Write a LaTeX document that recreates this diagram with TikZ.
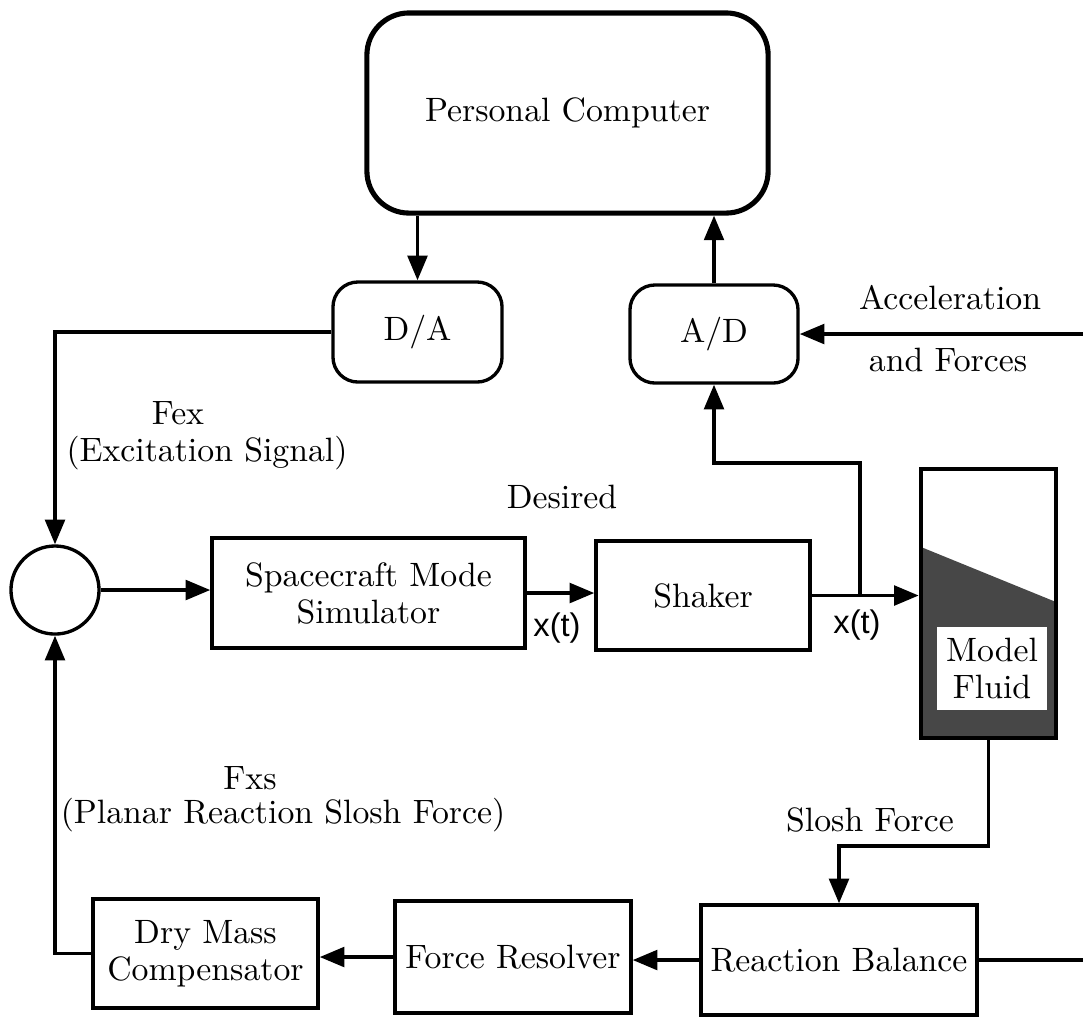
\documentclass[tikz,border=0pt]{standalone}
\usepackage{fontspec}
\newfontfamily\labelsans{Liberation Sans}
\usetikzlibrary{arrows.meta}
\tikzset{
  block/.style={draw, line width=0.95pt, align=center, inner sep=0pt},
  conv/.style={block, rounded corners=0.25cm},
  wire/.style={line width=0.95pt},
  signal/.style={wire, -{Triangle[length=7pt,width=5.6pt]}},
  txt/.style={align=center, inner sep=0pt},
  xlabel/.style={inner sep=0pt, font=\labelsans\fontsize{9.3}{11}\selectfont},
}

\begin{document}
\begin{tikzpicture}[x=0.01cm,y=-0.01cm,font=\fontsize{9.6}{10.5}\selectfont]
        \useasboundingbox (0,0) rectangle (1083,1017);

        % computer and converters
        \node[block, rounded corners=0.42cm, line width=1.45pt, minimum width=4.01cm, minimum height=2.00cm] (pc) at (567.5,113) {Personal Computer};
        \node[conv, minimum width=1.69cm, minimum height=1.00cm] (da) at (417.5,332) {D/A};
        \node[conv, minimum width=1.68cm, minimum height=0.98cm] (ad) at (714,334) {A/D};

        % summing junction
        \node[draw, circle, line width=0.95pt, minimum size=0.88cm, inner sep=0pt] (sum) at (55,590) {};

        % forward path
        \node[block, minimum width=3.13cm, minimum height=1.10cm] (sim) at (368.5,593) {Spacecraft Mode\\Simulator};
        \node[block, minimum width=2.14cm, minimum height=1.09cm] (shk) at (703,595.5) {Shaker};

        % fluid tank
        \fill[black!72] (921,547) -- (1056,602) -- (1056,738) -- (921,738) -- cycle;
        \node[fill=white, txt, minimum width=1.10cm, minimum height=0.83cm] (fluid) at (992,668.5) {Model\\Fluid};
        \node[draw, line width=1.3pt, minimum width=1.35cm, minimum height=2.69cm] (tank) at (988.5,603.5) {};

        % feedback path
        \node[block, minimum width=2.76cm, minimum height=1.10cm] (rb) at (839,960) {Reaction Balance};
        \node[block, minimum width=2.36cm, minimum height=1.12cm] (fr) at (513,957) {Force Resolver};
        \node[block, minimum width=2.25cm, minimum height=1.09cm] (dm) at (205.5,953.5) {Dry Mass\\Compensator};

        % labels
        \node[txt] (acc) at (950,298) {Acceleration};
        \node[txt] (accf) at (948,360) {and Forces};
        \node[txt] (fex) at (178,413) {Fex};
        \node[txt] (fexd) at (207,453) {(Excitation Signal)};
        \node[txt] (des) at (562,497) {Desired};
        \node[xlabel] (xt1) at (557,628) {x(t)};
        \node[xlabel] (xt2) at (857,625) {x(t)};
        \node[txt] (slosh) at (870,820) {Slosh Force};
        \node[txt] (fxs) at (250,778) {Fxs};
        \node[txt] (fxsd) at (283,815) {(Planar Reaction Slosh Force)};

        % free ends and bends
        \coordinate (accin) at (1083,334);
        \coordinate (tap) at (860,595.5);
        \coordinate (tapup) at (860,463);
        \coordinate (drop) at (986,846);
        \coordinate (rbout) at (1083,960);

        % connectors
        \draw[signal] (da.north |- pc.south) -- (da.north);
        \draw[signal] (ad.north) -- (ad.north |- pc.south);
        \draw[signal] (accin) -- (ad.east);
        \draw[signal] (da.west) -| (sum.north);
        \draw[signal] (sum.east) -- (sum.east -| sim.west);
        \draw[signal] (sim.east) -- (sim.east -| shk.west);
        \draw[signal] (shk.east) -- (shk.east -| tank.west);
        \draw[signal] (tap) -- (tapup) -| (ad.south);
        \draw[signal] (tank.south) -- (tank.south |- drop) -| (rb.north);
        \draw[wire] (rb.east) -- (rbout);
        \draw[signal] (rb.west) -- (rb.west -| fr.east);
        \draw[signal] (fr.west) -- (fr.west -| dm.east);
        \draw[signal] (dm.west) -| (sum.south);
    \end{tikzpicture}
\end{document}
